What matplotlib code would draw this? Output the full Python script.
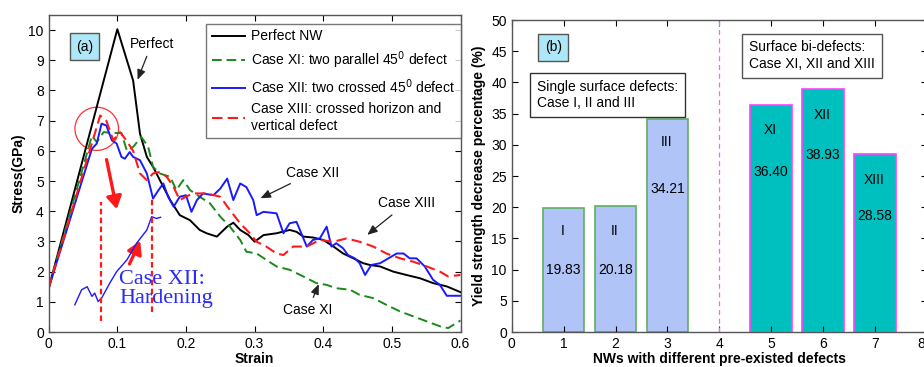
import matplotlib
matplotlib.use("Agg")
import matplotlib.pyplot as plt
from matplotlib.patches import Ellipse, FancyArrowPatch
import numpy as np

plt.rcParams['font.family'] = ['Liberation Sans', 'DejaVu Sans']

# ---------------- Data: panel (a) ----------------
perfect_x = [0, 0.1, 0.1126, 0.123, 0.133, 0.143, 0.152, 0.162, 0.177, 0.191, 0.206, 0.22, 0.23, 0.245,
             0.26, 0.269, 0.279, 0.291, 0.30, 0.313, 0.332, 0.351, 0.361, 0.371, 0.385, 0.40, 0.415, 0.429,
             0.444, 0.458, 0.468, 0.483, 0.502, 0.521, 0.541, 0.56, 0.58, 0.60]
perfect_y = [1.45, 10.03, 9.1, 8.33, 6.57, 5.8, 5.47, 5.03, 4.37, 3.87, 3.7, 3.38, 3.27, 3.16,
             3.49, 3.62, 3.38, 3.21, 2.99, 3.21, 3.27, 3.38, 3.32, 3.16, 3.13, 3.05, 2.83, 2.6,
             2.44, 2.28, 2.22, 2.17, 2.0, 1.89, 1.78, 1.62, 1.51, 1.32]

xi_x = [0, 0.063, 0.07, 0.08, 0.094, 0.106, 0.114, 0.123, 0.135, 0.145, 0.152, 0.162, 0.177, 0.186,
        0.196, 0.206, 0.22, 0.235, 0.25, 0.264, 0.279, 0.288, 0.303, 0.317, 0.332, 0.351, 0.371, 0.39,
        0.405, 0.419, 0.439, 0.453, 0.473, 0.492, 0.512, 0.531, 0.551, 0.57, 0.582, 0.60]
xi_y = [1.45, 6.5, 6.29, 6.62, 6.59, 6.59, 6.0, 6.13, 6.46, 6.13, 5.47, 5.25, 5.14, 4.7,
        5.03, 4.7, 4.48, 4.26, 3.82, 3.49, 3.05, 2.66, 2.6, 2.39, 2.17, 2.06, 1.84, 1.62,
        1.56, 1.45, 1.4, 1.23, 1.12, 0.9, 0.68, 0.52, 0.35, 0.19, 0.13, 0.38]

xii_x = [0, 0.063, 0.07, 0.077, 0.084, 0.092, 0.099, 0.106, 0.111, 0.118, 0.123, 0.133, 0.143, 0.152,
         0.16, 0.167, 0.174, 0.182, 0.191, 0.20, 0.208, 0.216, 0.225, 0.24, 0.25, 0.26, 0.269, 0.279,
         0.288, 0.298, 0.303, 0.313, 0.332, 0.342, 0.351, 0.361, 0.366, 0.376, 0.385, 0.395, 0.405,
         0.412, 0.419, 0.429, 0.436, 0.446, 0.453, 0.461, 0.47, 0.483, 0.495, 0.507, 0.517, 0.526,
         0.536, 0.548, 0.56, 0.57, 0.58, 0.60]
xii_y = [1.45, 6.07, 6.24, 6.9, 6.84, 6.35, 6.24, 5.8, 5.74, 5.96, 5.8, 5.69, 5.25, 4.42,
         4.7, 4.92, 4.48, 4.15, 4.48, 4.53, 3.98, 4.37, 4.59, 4.53, 4.75, 5.08, 4.37, 4.92,
         4.8, 4.37, 3.87, 3.98, 3.93, 3.27, 3.6, 3.65, 3.38, 2.83, 3.05, 3.1, 3.49,
         2.83, 2.94, 2.77, 2.55, 2.44, 2.28, 1.89, 2.22, 2.28, 2.44, 2.6, 2.6, 2.44,
         2.44, 2.17, 1.73, 1.56, 1.2, 1.2]

xiii_x = [0, 0.075, 0.084, 0.094, 0.104, 0.113, 0.123, 0.133, 0.143, 0.152, 0.162, 0.172, 0.182, 0.191,
          0.20, 0.21, 0.23, 0.25, 0.264, 0.279, 0.293, 0.303, 0.317, 0.332, 0.342, 0.356, 0.376, 0.395,
          0.415, 0.434, 0.453, 0.473, 0.492, 0.512, 0.531, 0.551, 0.57, 0.582, 0.60]
xiii_y = [1.45, 7.17, 7.0, 6.35, 6.62, 6.35, 6.0, 5.25, 5.03, 5.25, 5.3, 5.14, 4.8, 4.37,
          4.48, 4.59, 4.59, 4.48, 4.04, 3.6, 3.27, 2.99, 2.83, 2.6, 2.55, 2.83, 2.83, 3.05,
          2.99, 3.1, 2.99, 2.83, 2.6, 2.44, 2.33, 2.17, 2.0, 1.84, 1.89]

hard_x = [0.038, 0.048, 0.056, 0.063, 0.067, 0.072, 0.077, 0.089, 0.099, 0.114, 0.128, 0.143, 0.15, 0.157, 0.163]
hard_y = [0.9, 1.4, 1.5, 1.18, 1.29, 1.01, 1.12, 1.62, 2.0, 2.39, 2.94, 3.38, 3.82, 3.76, 3.8]

legend_labels = ["Perfect NW",
                 "Case XI: two parallel 45$^{\\mathrm{0}}$ defect",
                 "Case XII: two crossed 45$^{\\mathrm{0}}$ defect",
                 "Case XIII: crossed horizon and\nvertical defect"]

# ---------------- Data: panel (b) ----------------
bar_x = [1, 2, 3, 5, 6, 7]
bar_vals = [19.83, 20.18, 34.21, 36.40, 38.93, 28.58]
bar_names = ["I", "II", "III", "XI", "XII", "XIII"]
bar_group = [0, 0, 0, 1, 1, 1]
b_xticks = [0, 1, 2, 3, 4, 5, 6, 7, 8]

W, H = 924, 367
fig = plt.figure(figsize=(W / 100, H / 100), dpi=100)

def px_axes(l, r, t, b):
    return fig.add_axes([l / W, (H - b) / H, (r - l) / W, (b - t) / H])

ax = px_axes(48.7, 460.5, 15, 332)
ax2 = px_axes(511.7, 926.9, 20, 332)

tick_fs = 10
for a in (ax, ax2):
    a.tick_params(direction='in', top=True, right=True, labelsize=tick_fs, length=4, width=0.8)
    for s in a.spines.values():
        s.set_color('#555555')
        s.set_linewidth(1.0)

# ---- panel (a)
dash = (0, (5, 2.5))
ax.plot(perfect_x, perfect_y, color='black', lw=1.4, label=legend_labels[0])
ax.plot(xi_x, xi_y, color='#1a8a1a', lw=1.4, ls=dash, label=legend_labels[1])
ax.plot(xii_x, xii_y, color='#1a1aff', lw=1.4, label=legend_labels[2])
ax.plot(xiii_x, xiii_y, color='#ff1a1a', lw=1.5, ls=dash, label=legend_labels[3])
ax.plot(hard_x, hard_y, color='#1a1aff', lw=1.0)

ax.set_xlim(0, 0.6)
ax.set_ylim(0, 10.5)
ax.set_xticks(np.arange(0, 0.61, 0.1))
ax.set_xticklabels(['0', '0.1', '0.2', '0.3', '0.4', '0.5', '0.6'])
ax.set_yticks(range(0, 11))
ax.set_xlabel('Strain', fontsize=10, fontweight='bold', labelpad=1)
ax.set_ylabel('Stress(GPa)', fontsize=10, fontweight='bold', labelpad=2)

leg = ax.legend(loc='upper right', bbox_to_anchor=(1.0, 0.972), fontsize=10, frameon=True,
                fancybox=False, edgecolor='#555555', handlelength=2.4, handletextpad=0.4,
                borderpad=0.4, labelspacing=0.45, borderaxespad=0.0)
leg.get_frame().set_linewidth(1.0)

ax.text(0.052, 9.45, '(a)', fontsize=10, ha='center', va='center',
        bbox=dict(boxstyle='square,pad=0.45', fc='#aee8f8', ec='#555555', lw=1.0))

ax.add_patch(Ellipse((0.07, 6.73), 0.0635, 1.43, fill=False, ec='#ff3030', lw=0.9))
ax.plot([0.0757, 0.0757], [0.35, 4.3], color='#ff1a1a', lw=1.6, ls=(0, (2.5, 1.5)))
ax.plot([0.150, 0.150], [0.65, 4.4], color='#ff1a1a', lw=1.6, ls=(0, (2.5, 1.5)))
for (x0, y0), (x1, y1) in [((0.0835, 5.8), (0.1, 3.98)), ((0.116, 2.17), (0.135, 3.1))]:
    ax.add_patch(FancyArrowPatch((x0, y0), (x1, y1), arrowstyle='-|>,head_length=5,head_width=3',
                                 color='#ff1a1a', lw=2.4, mutation_scale=1.5))

ax.text(0.103, 1.42, 'Case XII:\nHardening', family=['Liberation Serif', 'DejaVu Serif'],
        fontsize=16, color='#2a2aff', ha='left', va='center', linespacing=1.05)

ann_kw = dict(fontsize=10, ha='center', va='center',
              arrowprops=dict(arrowstyle='-|>,head_length=0.6,head_width=0.25', color='#222222', lw=0.9))
ax.annotate('Perfect', xy=(0.128, 8.27), xytext=(0.15, 9.54), **ann_kw)
ax.annotate('Case XII', xy=(0.305, 4.39), xytext=(0.385, 5.28), **ann_kw)
ax.annotate('Case XIII', xy=(0.461, 3.16), xytext=(0.521, 4.26), **ann_kw)
ax.annotate('Case XI', xy=(0.395, 1.67), xytext=(0.378, 0.74), **ann_kw)

# ---- panel (b)
faces = ['#b0c4f8', '#00bfbf']
edges = ['#60b060', '#ff40ff']
for x, v, g in zip(bar_x, bar_vals, bar_group):
    ax2.bar(x, v, width=0.8, color=faces[g], edgecolor=edges[g], lw=1.2)

name_y = [16.2, 16.2, 30.4, 32.4, 34.8, 24.4]
val_y = [10.0, 10.0, 22.9, 25.6, 28.3, 18.6]
for x, v, n, ny, vy in zip(bar_x, bar_vals, bar_names, name_y, val_y):
    ax2.text(x - 0.02, ny, n, ha='center', va='center', fontsize=10)
    ax2.text(x, vy, f'{v:.2f}', ha='center', va='center', fontsize=10)

ax2.axvline(4, color='#ff60ff', lw=0.9, ls=(0, (4, 3)))
ax2.set_xlim(0, 8)
ax2.set_ylim(0, 50)
ax2.set_xticks(b_xticks)
ax2.set_xticklabels([str(t) for t in b_xticks[:-1]] + [''])
# last tick label sits at the figure's right edge: right-align it so it stays visible
ax2.annotate(str(b_xticks[-1]), xy=(b_xticks[-1], 0), xycoords=('data', 'axes fraction'),
             xytext=(-1, -3.5), textcoords='offset points', ha='right', va='top', fontsize=tick_fs)
ax2.set_yticks(range(0, 51, 5))
ax2.set_xlabel('NWs with different pre-existed defects', fontsize=10, fontweight='bold', labelpad=1)
ax2.set_ylabel('Yield strength decrease percentage (%)', fontsize=10, fontweight='bold', labelpad=4)

ax2.text(0.8, 45.6, '(b)', fontsize=10, ha='center', va='center',
         bbox=dict(boxstyle='square,pad=0.45', fc='#aee8f8', ec='#555555', lw=1.0))
ax2.text(0.48, 38.0, 'Single surface defects:\nCase I, II and III', fontsize=10, ha='left', va='center',
         linespacing=1.2, bbox=dict(boxstyle='square,pad=0.5', fc='white', ec='#333333', lw=1.0))
ax2.text(4.57, 44.3, 'Surface bi-defects:\nCase XI, XII and XIII', fontsize=10, ha='left', va='center',
         linespacing=1.2, bbox=dict(boxstyle='square,pad=0.5', fc='white', ec='#555555', lw=1.0))

fig.savefig('out.png', dpi=100)
